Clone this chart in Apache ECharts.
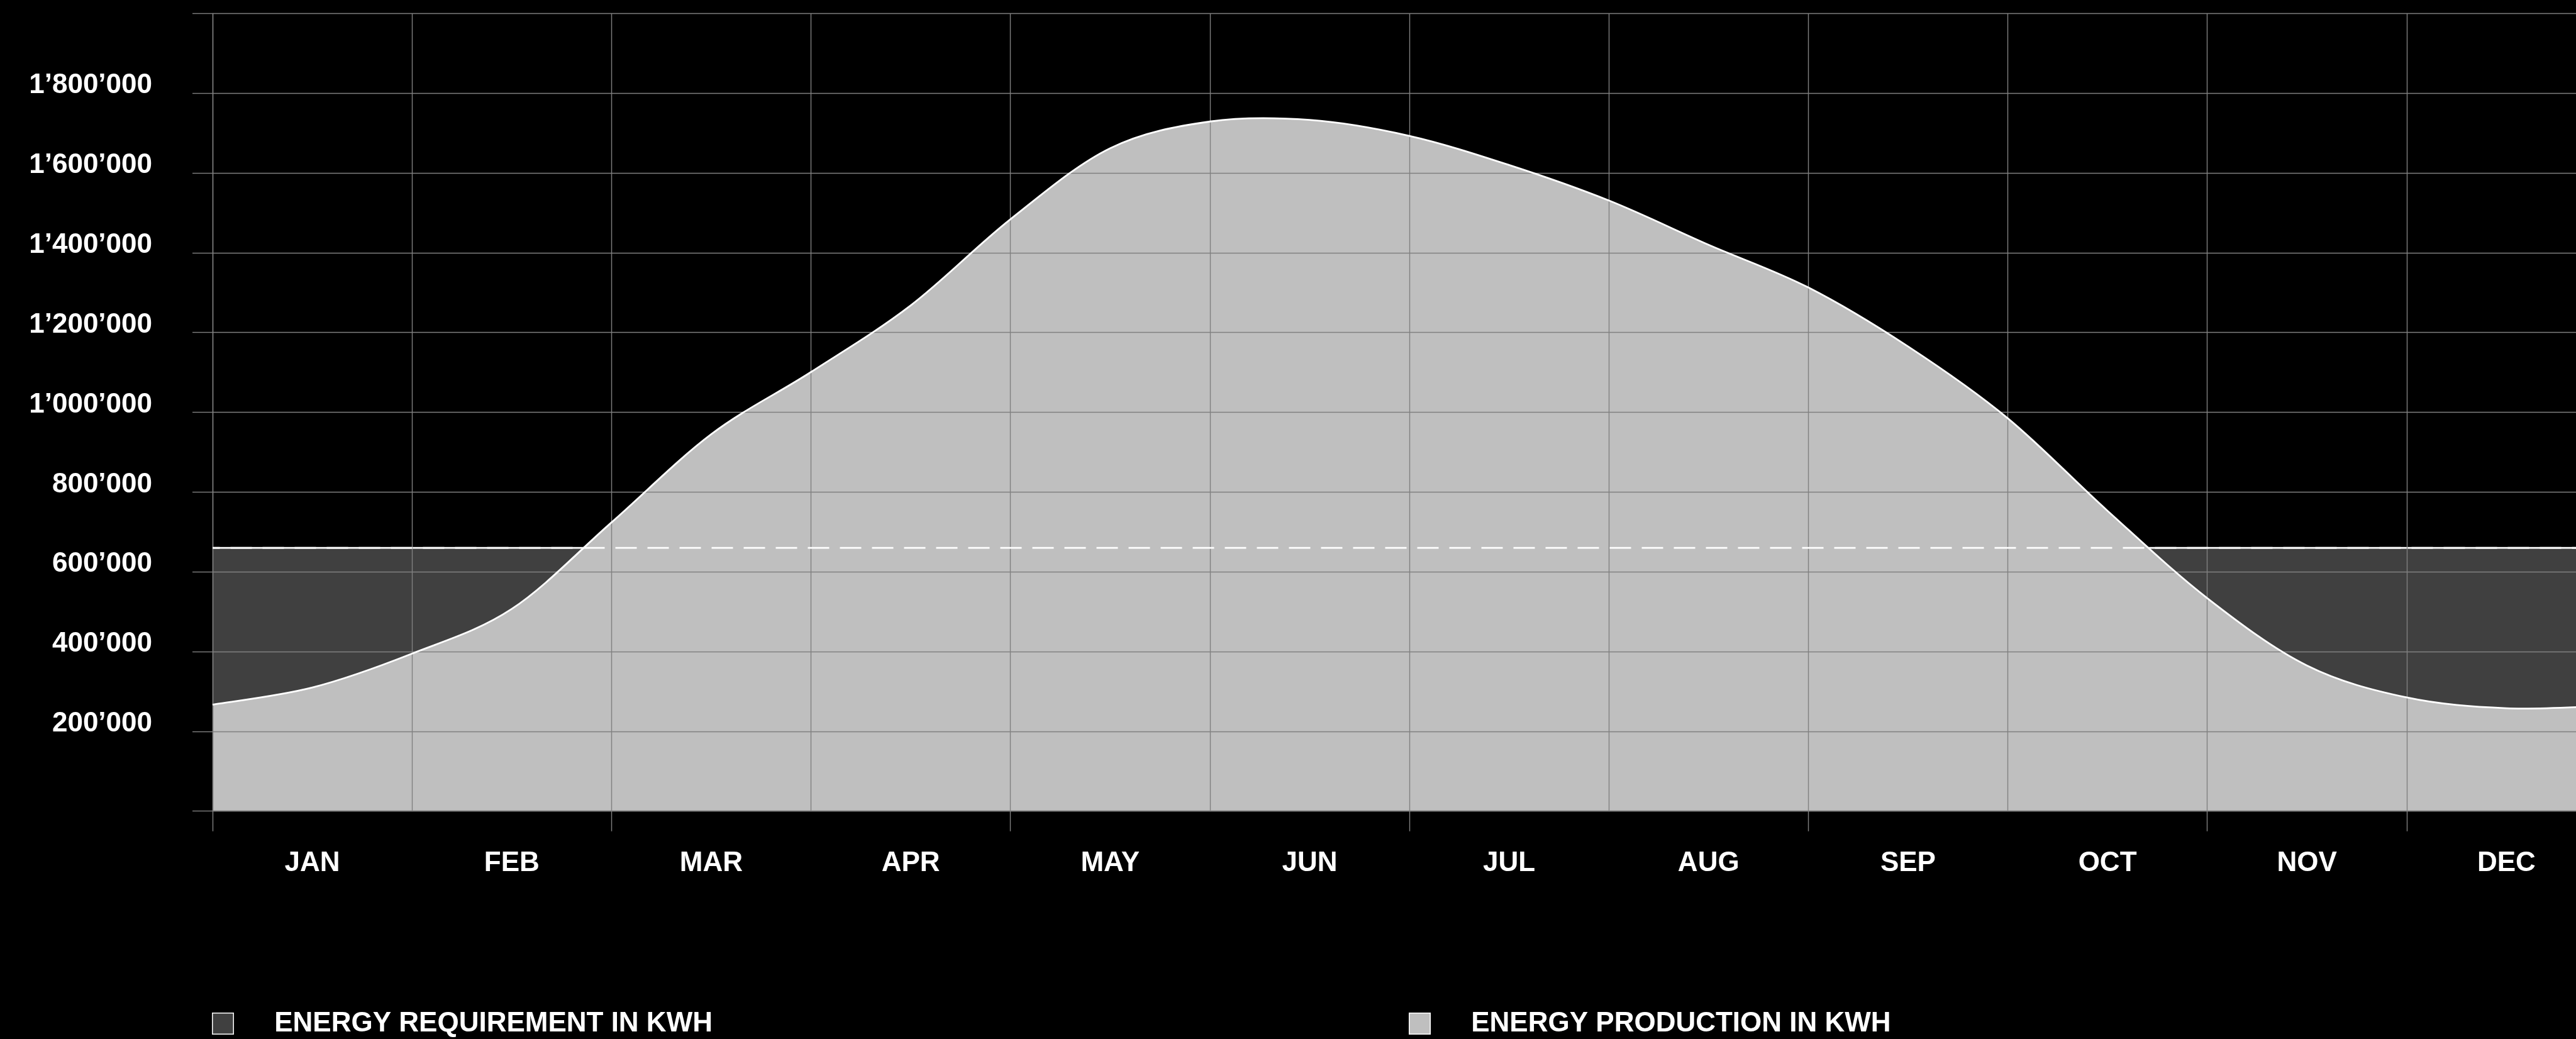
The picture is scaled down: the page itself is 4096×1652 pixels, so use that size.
<!DOCTYPE html>
<html>
<head>
<meta charset="utf-8">
<title>Energy requirement and production</title>
<style>
  html, body { margin: 0; padding: 0; background: #000; }
  #chart { width: 4096px; height: 1652px; }
</style>
<script src="https://cdn.jsdelivr.net/npm/echarts@6/dist/echarts.min.js"></script>
</head>
<body>
<div id="chart"></div>
<script>
// Month bands along the bottom axis
const MONTHS = ['JAN', 'FEB', 'MAR', 'APR', 'MAY', 'JUN', 'JUL', 'AUG', 'SEP', 'OCT', 'NOV', 'DEC'];

// Value axis range and step (kWh)
const Y_MIN = 0;
const Y_MAX = 2000000;
const Y_STEP = 200000;

// Production curve: position in months from the start of January, kWh
const PRODUCTION_POS = [0, 0.5, 1, 1.5, 2, 2.5, 3, 3.5, 4, 4.5, 5, 5.5, 6, 6.5, 7, 7.5, 8, 8.5, 9, 9.5, 10, 10.5, 11, 11.5, 12];
const PRODUCTION_KWH = [267000, 310000, 395000, 507000, 724000, 945000, 1101000, 1268000, 1484000, 1662000, 1729000, 1733000, 1693000, 1620000, 1531000, 1420000, 1313000, 1165000, 985000, 753000, 534000, 365000, 285000, 258000, 264000];

// Requirement level across the whole year, kWh
const REQUIREMENT_POS = [0, 12];
const REQUIREMENT_KWH = [660000, 660000];

const LEGEND_NAMES = ['ENERGY REQUIREMENT IN KWH', 'ENERGY PRODUCTION IN KWH'];

const FONT = '"Liberation Sans", Arial, Helvetica, sans-serif';
const GRID_COLOR = '#808080';
const DARK = '#404040';
const LIGHT = '#bfbfbf';

function pairs(xs, ys) {
  return xs.map((x, i) => [x, ys[i]]);
}

// 1800000 -> 1’800’000; the ends of the axis stay unlabelled
function formatKwh(v) {
  if (v === Y_MIN || v === Y_MAX) return '';
  return String(v).replace(/\B(?=(\d{3})+(?!\d))/g, '\u2019');
}

const requirementData = pairs(REQUIREMENT_POS, REQUIREMENT_KWH);
const productionData = pairs(PRODUCTION_POS, PRODUCTION_KWH);

// Smooth (Catmull-Rom) path through the production points, placed with the axes' own scales.
// When `closed` is set the path runs back along the zero line so it can be filled.
function productionPath(api, closed) {
  const pts = productionData.map(p => api.coord(p));
  const n = pts.length;
  let d = 'M' + pts[0][0] + ' ' + pts[0][1];
  for (let i = 0; i < n - 1; i++) {
    const p0 = pts[Math.max(i - 1, 0)];
    const p1 = pts[i];
    const p2 = pts[i + 1];
    const p3 = pts[Math.min(i + 2, n - 1)];
    const c1x = p1[0] + (p2[0] - p0[0]) / 6;
    const c1y = p1[1] + (p2[1] - p0[1]) / 6;
    const c2x = p2[0] - (p3[0] - p1[0]) / 6;
    const c2y = p2[1] - (p3[1] - p1[1]) / 6;
    d += ' C' + c1x + ' ' + c1y + ' ' + c2x + ' ' + c2y + ' ' + p2[0] + ' ' + p2[1];
  }
  if (closed) {
    const endBase = api.coord([PRODUCTION_POS[n - 1], Y_MIN]);
    const startBase = api.coord([PRODUCTION_POS[0], Y_MIN]);
    d += ' L' + endBase[0] + ' ' + endBase[1] + ' L' + startBase[0] + ' ' + startBase[1] + ' Z';
  }
  return d;
}

function productionSeries(closed, z, style) {
  return {
    name: LEGEND_NAMES[1],
    type: 'custom',
    coordinateSystem: 'cartesian2d',
    xAxisIndex: 1,
    yAxisIndex: 0,
    data: productionData,
    encode: { x: 0, y: 1 },
    silent: true,
    z: z,
    itemStyle: { color: LIGHT },
    renderItem: function (params, api) {
      if (params.dataIndex !== 0) return null;
      return {
        type: 'path',
        shape: { pathData: productionPath(api, closed) },
        style: style
      };
    }
  };
}

const legendText = {
  color: '#ffffff',
  fontFamily: FONT,
  fontWeight: 'bold',
  fontSize: 44,
  padding: [8, 0, 0, 60]
};

function legendAt(left, name, color) {
  return {
    left: left,
    top: 1605.6,
    padding: 0,
    orient: 'horizontal',
    selectedMode: false,
    itemWidth: 33.5,
    itemHeight: 33.5,
    icon: 'rect',
    itemStyle: { borderColor: '#ffffff', borderWidth: 1.5 },
    textStyle: legendText,
    data: [{ name: name, itemStyle: { color: color } }]
  };
}

const chart = echarts.init(document.getElementById('chart'), null, { renderer: 'canvas' });

chart.setOption({
  backgroundColor: '#000000',
  animation: false,
  grid: {
    left: 338,
    right: -48,
    top: 21.4,
    bottom: 362.3,
    containLabel: false,
    outerBoundsMode: 'none'
  },
  legend: [
    legendAt(337, LEGEND_NAMES[0], DARK),
    legendAt(2240, LEGEND_NAMES[1], LIGHT)
  ],
  xAxis: [
    {
      type: 'category',
      data: MONTHS,
      boundaryGap: true,
      z: 3,
      axisLine: { show: true, lineStyle: { color: GRID_COLOR, width: 1.4 } },
      axisTick: { show: true, interval: 1, length: 32, lineStyle: { color: GRID_COLOR, width: 1.4 } },
      splitLine: { show: true, interval: 0, lineStyle: { color: GRID_COLOR, width: 1.4 } },
      axisLabel: {
        interval: 0,
        margin: 61,
        color: '#ffffff',
        fontFamily: FONT,
        fontWeight: 'bold',
        fontSize: 44,
        lineHeight: 44
      }
    },
    {
      type: 'value',
      min: 0,
      max: 12,
      show: false
    }
  ],
  yAxis: {
    type: 'value',
    min: Y_MIN,
    max: Y_MAX,
    interval: Y_STEP,
    z: 3,
    axisLine: { show: true, lineStyle: { color: GRID_COLOR, width: 1.4 } },
    axisTick: { show: true, length: 32, lineStyle: { color: GRID_COLOR, width: 1.4 } },
    splitLine: { show: true, lineStyle: { color: GRID_COLOR, width: 1.4 } },
    axisLabel: {
      margin: 96,
      color: '#ffffff',
      fontFamily: FONT,
      fontWeight: 'bold',
      fontSize: 44,
      verticalAlign: 'bottom',
      lineHeight: 24,
      formatter: formatKwh
    }
  },
  series: [
    // requirement block with its solid white top edge, hidden wherever production covers it
    {
      name: LEGEND_NAMES[0],
      type: 'line',
      xAxisIndex: 1,
      data: requirementData,
      symbol: 'none',
      silent: true,
      z: 1,
      itemStyle: { color: DARK },
      lineStyle: { color: '#ffffff', width: 2.6 },
      areaStyle: { color: DARK, opacity: 1 }
    },
    // production area, below the grid lines
    productionSeries(true, 2, { fill: LIGHT, stroke: null }),
    // production outline over the grid
    productionSeries(false, 4, { fill: null, stroke: '#ffffff', lineWidth: 2.8 }),
    // requirement level continued as a dashed line across the production area
    {
      name: LEGEND_NAMES[0],
      type: 'line',
      xAxisIndex: 1,
      data: requirementData,
      symbol: 'none',
      silent: true,
      z: 5,
      itemStyle: { color: DARK },
      lineStyle: { color: '#ffffff', width: 2.6, type: [34, 17], dashOffset: 22.5 }
    }
  ]
});
</script>
</body>
</html>
